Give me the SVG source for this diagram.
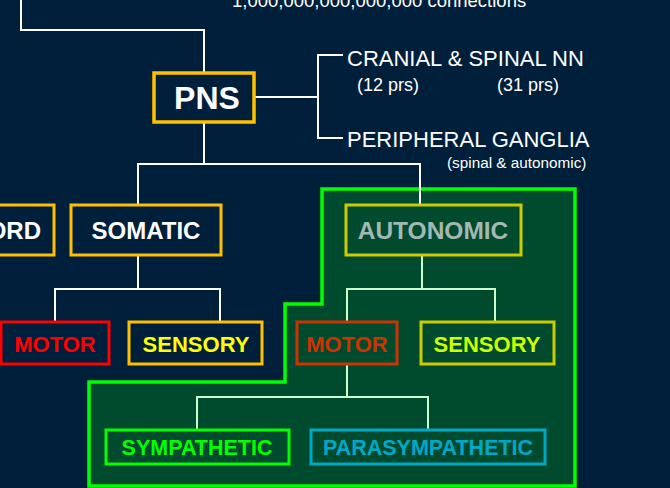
<svg xmlns="http://www.w3.org/2000/svg" width="670" height="488" viewBox="0 0 670 488">
<style>
.bx{fill:none;stroke-width:3}
.lb{font-family:"Liberation Sans",Arial,sans-serif;font-weight:bold;text-anchor:middle}
.tx{font-family:"Liberation Sans",Arial,sans-serif;fill:#ffffff}
.cw{fill:none;stroke:#ffffff;stroke-width:2}
.cg{fill:none;stroke:#ccffcc;stroke-width:2}
</style>
<rect x="0" y="0" width="670" height="488" fill="#001f3b"/>
<g id="autonomic-region">
<path d="M322,189 L575,189 L575,486 L89,486 L89,382 L285,382 L285,304 L322,304 Z" fill="#004b2e" stroke="#00ff00" stroke-width="3.5"/>
</g>
<g id="connectors">
<path class="cw" d="M21,0 V30 H204 V72"/>
<path class="cw" d="M204,123 V164 M138,205 V164 H420 V205"/>
<path class="cw" d="M255,97 H318 M343,55 H318 V138 H343"/>
<path class="cw" d="M138,255 V289 M55,321 V289 H220 V321"/>
<path class="cg" d="M422,255 V289 M347,321 V289 H495 V321"/>
<path class="cg" d="M347,364 V397 M197,429 V397 H428 V429"/>
</g>
<g id="header">
<text class="tx" x="232" y="7" font-size="18.5">1,000,000,000,000,000 connections</text>
</g>
<g id="pns">
<rect x="154" y="73" width="100" height="49" fill="none" stroke="#ffc000" stroke-width="3.5"/>
<text class="lb" x="207" y="109" font-size="32" fill="#ffffff">PNS</text>
</g>
<g id="cranial-spinal">
<text class="tx" x="347" y="66" font-size="22">CRANIAL &amp; SPINAL NN</text>
<text class="tx" x="357" y="91" font-size="18">(12 prs)</text>
<text class="tx" x="497" y="91" font-size="18">(31 prs)</text>
</g>
<g id="peripheral-ganglia">
<text class="tx" x="347" y="147" font-size="22">PERIPHERAL GANGLIA</text>
<text class="tx" x="447" y="168" font-size="15.3">(spinal &amp; autonomic)</text>
</g>
<g id="cord">
<rect class="bx" x="-10" y="205" width="64" height="50" stroke="#ffc000"/>
<text class="lb" x="41" y="239" font-size="24" fill="#ffffff" style="text-anchor:end">CORD</text>
</g>
<g id="somatic">
<rect class="bx" x="71" y="205" width="150" height="50" stroke="#ffc000"/>
<text class="lb" x="146" y="239" font-size="24" fill="#ffffff">SOMATIC</text>
</g>
<g id="somatic-motor">
<rect class="bx" x="1" y="322" width="108" height="42" stroke="#ff0000"/>
<text class="lb" x="55" y="352" font-size="22" fill="#ff0000">MOTOR</text>
</g>
<g id="somatic-sensory">
<rect class="bx" x="129" y="322" width="133" height="42" stroke="#ffc000"/>
<text class="lb" x="196" y="352" font-size="22" fill="#ffff00">SENSORY</text>
</g>
<g id="autonomic">
<rect class="bx" x="346" y="205" width="175" height="50" stroke="#cccc00"/>
<text class="lb" x="433" y="239" font-size="24.5" fill="#a3b8b4">AUTONOMIC</text>
</g>
<g id="autonomic-motor">
<rect class="bx" x="297" y="322" width="100" height="42" stroke="#cc3300"/>
<text class="lb" x="347" y="352" font-size="22" fill="#cc3300">MOTOR</text>
</g>
<g id="autonomic-sensory">
<rect class="bx" x="421" y="322" width="133" height="42" stroke="#cccc00"/>
<text class="lb" x="487" y="352" font-size="22" fill="#ccff00">SENSORY</text>
</g>
<g id="sympathetic">
<rect class="bx" x="106" y="430" width="183" height="34" stroke="#00ff00"/>
<text class="lb" x="197" y="455" font-size="21.5" fill="#00ff00">SYMPATHETIC</text>
</g>
<g id="parasympathetic">
<rect class="bx" x="311" y="430" width="234" height="34" stroke="#00a8c8"/>
<text class="lb" x="428" y="455" font-size="21.5" fill="#00a8c8">PARASYMPATHETIC</text>
</g>
</svg>
